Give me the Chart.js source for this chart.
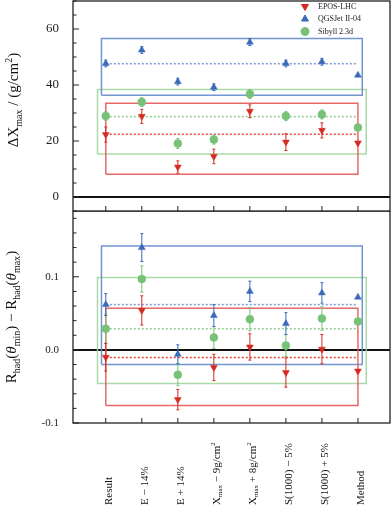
<!DOCTYPE html>
<html>
<head>
<meta charset="utf-8">
<script src="https://cdn.jsdelivr.net/npm/chart.js@4.4.1/dist/chart.umd.min.js"></script>
<style>
  html, body { margin: 0; padding: 0; background: #fff; }
  #wrap { position: relative; width: 391px; height: 507px; overflow: hidden; }
  #top { position: absolute; left: 0; top: 0; }
  #bottom { position: absolute; left: 0; top: 211px; }
</style>
</head>
<body>
<div id="wrap">
  <canvas id="top" width="391" height="212"></canvas>
  <canvas id="bottom" width="391" height="296"></canvas>
</div>
<script>
// categories (markup: _{} subscript, ^{} superscript, *{} italic)
const categories = ['Result', 'E − 14%', 'E + 14%', 'X_{max} − 9g/cm^{2}', 'X_{max} + 8g/cm^{2}',
  'S(1000) − 5%', 'S(1000) + 5%', 'Method'];
const models = ['EPOS-LHC', 'QGSJet II-04', 'Sibyll 2.3d'];

// top panel: delta Xmax (g/cm2)
const xmaxEpos = [22.3, 28.8, 10.7, 14.5, 30.6, 19.6, 23.8, 19.3];
const xmaxEposErr = [2.7, 2.5, 2.2, 2.6, 2.3, 3.0, 2.7, 0];
const xmaxQgs = [47.7, 52.5, 41.2, 39.2, 55.3, 47.7, 48.3, 43.5];
const xmaxQgsErr = [1.2, 1.2, 1.2, 1.2, 1.2, 1.2, 1.2, 0];
const xmaxSib = [28.9, 33.9, 19.1, 20.5, 36.8, 28.9, 29.5, 24.8];
const xmaxSibErr = [1.6, 1.6, 1.8, 1.6, 1.6, 1.6, 1.6, 0];
const xmaxMean = [22.4, 47.6, 28.7];
const xmaxBandLow = [8.1, 36.3, 15.4];
const xmaxBandHigh = [33.5, 56.6, 38.4];
const xmaxTicks = [0, 20, 40, 60];

// bottom panel: Rhad(theta_min) - Rhad(theta_max)
const rEpos = [-0.010, 0.054, -0.068, -0.024, 0.004, -0.031, 0.001, -0.029];
const rEposErr = [0.019, 0.020, 0.014, 0.018, 0.018, 0.020, 0.020, 0];
const rQgs = [0.062, 0.140, -0.006, 0.047, 0.080, 0.036, 0.078, 0.072];
const rQgsErr = [0.015, 0.019, 0.013, 0.015, 0.014, 0.015, 0.014, 0];
const rSib = [0.029, 0.097, -0.034, 0.017, 0.042, 0.006, 0.043, 0.039];
const rSibErr = [0.020, 0.018, 0.015, 0.015, 0.016, 0.015, 0.016, 0];
const rMean = [-0.0104, 0.062, 0.029];
const rBandLow = [-0.076, -0.020, -0.046];
const rBandHigh = [0.057, 0.142, 0.099];
const rTicks = [-0.1, 0, 0.1];

const SERIF = '"Liberation Serif", "DejaVu Serif", serif';
const styles = [
  { color: '#d42a22', band: 'rgba(226,90,86,0.9)', mean: '#e0443c', shape: 'triangle', rot: 180, pad: 0 },
  { color: '#3a6ab8', band: 'rgba(100,138,204,0.9)', mean: '#7b9bd6', shape: 'triangle', rot: 0, pad: 0.12 },
  { color: '#78c278', band: 'rgba(160,214,158,0.9)', mean: '#8ccf8a', shape: 'circle', rot: 0, pad: 0.23 }
];

function segments(str) {
  const out = [];
  const re = /([_^*])\{([^}]*)\}/g;
  let last = 0, m;
  while ((m = re.exec(str))) {
    if (m.index > last) out.push({ t: str.slice(last, m.index), k: '' });
    out.push({ t: m[2], k: m[1] });
    last = re.lastIndex;
  }
  if (last < str.length) out.push({ t: str.slice(last), k: '' });
  return out;
}

function richText(ctx, str, x, y, size, align) {
  const segs = segments(str);
  const fontFor = k => (k === '*' ? 'italic ' : '') + (k === '_' || k === '^' ? Math.round(size * 0.68) : size) + 'px ' + SERIF;
  let w = 0;
  segs.forEach(s => { ctx.font = fontFor(s.k); s.w = ctx.measureText(s.t).width; w += s.w; });
  let cx = align === 'center' ? x - w / 2 : x;
  ctx.textAlign = 'left';
  ctx.textBaseline = 'alphabetic';
  segs.forEach(s => {
    ctx.font = fontFor(s.k);
    const dy = s.k === '_' ? size * 0.22 : s.k === '^' ? -size * 0.42 : 0;
    ctx.fillText(s.t, cx, y + dy);
    cx += s.w;
  });
}

function buildDatasets(series, errs, means, lows, highs) {
  const sets = [];
  series.forEach((vals, m) => {
    const st = styles[m];
    sets.push({
      label: models[m],
      data: vals.map((v, i) => ({ x: i, y: v })),
      errors: errs[m],
      showLine: false,
      pointStyle: st.shape,
      pointRotation: st.rot,
      pointRadius: 4,
      pointBackgroundColor: st.color,
      pointBorderColor: st.color,
      pointBorderWidth: 0.5,
      order: 0
    });
    sets.push({
      label: models[m] + ' mean',
      data: [{ x: 0, y: means[m] }, { x: categories.length - 1, y: means[m] }],
      borderColor: st.mean,
      borderWidth: 1.5,
      borderDash: [2, 2],
      pointRadius: 0,
      order: 1
    });
    const x0 = -st.pad, x1 = categories.length - 1 + st.pad;
    sets.push({
      label: models[m] + ' band',
      data: [{ x: x0, y: lows[m] }, { x: x1, y: lows[m] }, { x: x1, y: highs[m] },
             { x: x0, y: highs[m] }, { x: x0, y: lows[m] }],
      borderColor: st.band,
      borderWidth: 1.5,
      pointRadius: 0,
      tension: 0,
      order: 2
    });
  });
  return sets;
}

const errorBars = {
  id: 'errorBars',
  beforeDatasetDraw(chart, args) {
    const ds = chart.data.datasets[args.index];
    if (!ds.errors) return;
    const { ctx, scales: { x, y } } = chart;
    ctx.save();
    ctx.strokeStyle = ds.pointBorderColor;
    ctx.lineWidth = 1;
    ds.data.forEach((p, i) => {
      const e = ds.errors[i];
      if (!e) return;
      const px = x.getPixelForValue(p.x);
      const y1 = y.getPixelForValue(p.y + e), y2 = y.getPixelForValue(p.y - e);
      ctx.beginPath();
      ctx.moveTo(px, y1); ctx.lineTo(px, y2);
      ctx.moveTo(px - 1.5, y1); ctx.lineTo(px + 1.5, y1);
      ctx.moveTo(px - 1.5, y2); ctx.lineTo(px + 1.5, y2);
      ctx.stroke();
    });
    ctx.restore();
  }
};

const frame = {
  id: 'frame',
  beforeDatasetsDraw(chart) {
    const { ctx, chartArea: a, scales: { y } } = chart;
    const y0 = y.getPixelForValue(0);
    ctx.save();
    ctx.strokeStyle = '#111';
    ctx.lineWidth = 2;
    ctx.beginPath(); ctx.moveTo(a.left, y0); ctx.lineTo(a.right, y0); ctx.stroke();
    ctx.restore();
  },
  afterDraw(chart, args, opts) {
    const { ctx, chartArea: a, scales: { x, y } } = chart;
    ctx.save();
    ctx.strokeStyle = '#222';
    ctx.lineWidth = 1.3;
    ctx.strokeRect(a.left, a.top, a.right - a.left, a.bottom - a.top);
    ctx.lineWidth = 1;
    ctx.beginPath();
    const n = Math.round((y.max - opts.start) / opts.minor);
    for (let k = 0; k <= n; k++) {
      const v = opts.start + k * opts.minor;
      const major = Math.abs(v / opts.major - Math.round(v / opts.major)) < 1e-6;
      const py = y.getPixelForValue(v);
      ctx.moveTo(a.left, py); ctx.lineTo(a.left + (major ? 6 : 3.5), py);
    }
    categories.forEach((c, i) => {
      const px = x.getPixelForValue(i);
      ctx.moveTo(px, a.bottom); ctx.lineTo(px, a.bottom - 5);
    });
    ctx.stroke();
    ctx.fillStyle = '#111';
    ctx.translate(opts.titleX, opts.titleY);
    ctx.rotate(-Math.PI / 2);
    richText(ctx, opts.title, 0, opts.titleSize * 0.35, opts.titleSize, 'center');
    ctx.restore();
  }
};

const legendBox = {
  id: 'legendBox',
  afterDraw(chart, args, opts) {
    if (!opts.show) return;
    const ctx = chart.ctx;
    const rows = [6.5, 19, 31.5];
    models.forEach((name, m) => {
      const st = styles[m];
      ctx.save();
      ctx.fillStyle = st.color;
      ctx.strokeStyle = st.color;
      Chart.helpers.drawPoint(ctx, { pointStyle: st.shape, rotation: st.rot, radius: 4, borderWidth: 0.5 }, 305, rows[m]);
      ctx.fillStyle = '#222';
      ctx.font = '8px ' + SERIF;
      ctx.textAlign = 'left';
      ctx.textBaseline = 'middle';
      ctx.fillText(name, 318, rows[m]);
      ctx.restore();
    });
  }
};

const xLabels = {
  id: 'xLabels',
  afterDraw(chart, args, opts) {
    if (!opts.show) return;
    const { ctx, scales: { x } } = chart;
    ctx.save();
    ctx.fillStyle = '#111';
    categories.forEach((c, i) => {
      const px = x.getPixelForValue(i) + 2;
      ctx.save();
      ctx.translate(px, opts.baseY);
      ctx.rotate(-Math.PI / 2);
      richText(ctx, c, 0, 11 * 0.35, 11, 'left');
      ctx.restore();
    });
    ctx.restore();
  }
};

function makeChart(id, datasets, yMin, yMax, ticks, tickSize, fmt, padding, frameOpts, legendOn, labelsOn) {
  return new Chart(document.getElementById(id), {
    type: 'line',
    data: { datasets: datasets },
    plugins: [errorBars, frame, legendBox, xLabels],
    options: {
      responsive: false,
      animation: false,
      layout: { padding: padding, autoPadding: false },
      plugins: {
        legend: { display: false },
        tooltip: { enabled: false },
        frame: frameOpts,
        legendBox: { show: legendOn },
        xLabels: { show: labelsOn, baseY: 294 }
      },
      scales: {
        x: { type: 'linear', min: -0.91, max: 7.89, display: false },
        y: {
          min: yMin,
          max: yMax,
          afterBuildTicks: s => { s.ticks = ticks.map(v => ({ value: v })); },
          afterFit: s => { s.width = 73; s.paddingTop = 0; s.paddingBottom = 0; },
          grid: { display: false },
          border: { display: false },
          ticks: {
            padding: 6,
            color: '#222',
            font: { family: SERIF, size: tickSize },
            callback: fmt
          }
        }
      }
    }
  });
}

makeChart('top',
  buildDatasets([xmaxEpos, xmaxQgs, xmaxSib], [xmaxEposErr, xmaxQgsErr, xmaxSibErr], xmaxMean, xmaxBandLow, xmaxBandHigh),
  -5, 70, xmaxTicks, 13, v => String(v),
  { top: 1, right: 1, bottom: 1, left: 0 },
  { start: -5, minor: 5, major: 20, title: 'ΔX_{max} / (g/cm^{2})', titleX: 13, titleY: 100, titleSize: 15 },
  true, false);

makeChart('bottom',
  buildDatasets([rEpos, rQgs, rSib], [rEposErr, rQgsErr, rSibErr], rMean, rBandLow, rBandHigh),
  -0.1, 0.19, rTicks, 11, v => v.toFixed(1),
  { top: 0, right: 1, bottom: 84, left: 0 },
  { start: -0.1, minor: 0.02, major: 0.1, title: 'R_{had}(*{θ}_{min}) − R_{had}(*{θ}_{max})', titleX: 11, titleY: 106, titleSize: 15 },
  false, true);
</script>
</body>
</html>
